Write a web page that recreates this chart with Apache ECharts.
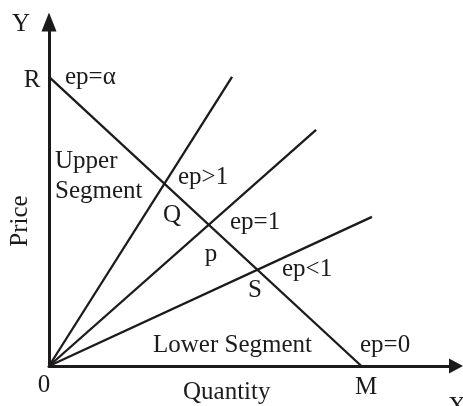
<!DOCTYPE html>
<html>
<head>
<meta charset="utf-8">
<script src="https://cdn.jsdelivr.net/npm/echarts@6/dist/echarts.min.js"></script>
<style>html,body{margin:0;padding:0;background:#fff;}#c{width:463px;height:406px;}</style>
</head>
<body>
<div id="c"></div>
<script>
// ---- data ----
const demandQuantity = [0, 10];        // R -> M
const demandPrice = [10, 0];
const rayEndQuantity = [5.86, 8.55, 10.34];  // three rays from origin
const rayEndPrice = [10, 8.17, 5.16];
const axisNames = ['Y', 'X', 'Price', 'Quantity', '0'];
const pointNames = ['R', 'Q', 'p', 'S', 'M'];
const elasticityLabels = ['ep=α', 'ep>1', 'ep=1', 'ep<1', 'ep=0'];
const segmentLabels = ['Upper', 'Segment', 'Lower Segment'];

// ---- chart ----
const ink = '#1c1a1b';
const font = '"Liberation Serif", "DejaVu Serif", serif';
const chart = echarts.init(document.getElementById('c'), null, {renderer: 'canvas'});

const series = [];
series.push({
  type: 'line', symbol: 'none', silent: true,
  data: demandQuantity.map((q, i) => [q, demandPrice[i]]),
  lineStyle: {color: ink, width: 2.3}
});
rayEndQuantity.forEach((q, i) => {
  series.push({
    type: 'line', symbol: 'none', silent: true,
    data: [[0, 0], [q, rayEndPrice[i]]],
    lineStyle: {color: ink, width: 2.3}
  });
});

function txt(text, x, y, align, rot) {
  return {
    type: 'text', x: x, y: y, rotation: rot || 0, silent: true,
    style: {text: text, fill: ink, font: '25px ' + font, align: align || 'left', verticalAlign: 'middle'}
  };
}

const graphics = [
  txt(axisNames[0], 21, 24, 'center'),
  txt(axisNames[1], 457, 407, 'center'),
  txt(axisNames[2], 20, 221, 'center', Math.PI / 2),
  txt(axisNames[3], 183, 392, 'left'),
  txt(axisNames[4], 44, 385, 'center'),
  txt(pointNames[0], 32, 80, 'center'),
  txt(pointNames[1], 172, 215, 'center'),
  txt(pointNames[2], 211, 254, 'center'),
  txt(pointNames[3], 255, 290, 'center'),
  txt(pointNames[4], 366, 387, 'center'),
  txt(elasticityLabels[0], 65, 77, 'left'),
  txt(elasticityLabels[1], 178, 177, 'left'),
  txt(elasticityLabels[2], 230, 222, 'left'),
  txt(elasticityLabels[3], 282, 269, 'left'),
  txt(elasticityLabels[4], 360, 345, 'left'),
  txt(segmentLabels[0], 55, 161, 'left'),
  txt(segmentLabels[1], 55, 191, 'left'),
  txt(segmentLabels[2], 153, 345, 'left')
];

chart.setOption({
  animation: false,
  backgroundColor: '#ffffff',
  grid: {left: 49, right: 7, top: 22, bottom: 40, containLabel: false},
  xAxis: {
    type: 'value', min: 0, max: 13.03,
    axisLine: {show: true, onZero: false, symbol: ['none', 'triangle'], symbolSize: [15, 14], lineStyle: {color: ink, width: 3}},
    axisTick: {show: false}, axisLabel: {show: false}, splitLine: {show: false}
  },
  yAxis: {
    type: 'value', min: 0, max: 11.9,
    axisLine: {show: true, onZero: false, symbol: ['none', 'triangle'], symbolSize: [15, 19], lineStyle: {color: ink, width: 3}},
    axisTick: {show: false}, axisLabel: {show: false}, splitLine: {show: false}
  },
  series: series,
  graphic: graphics
});
</script>
</body>
</html>
